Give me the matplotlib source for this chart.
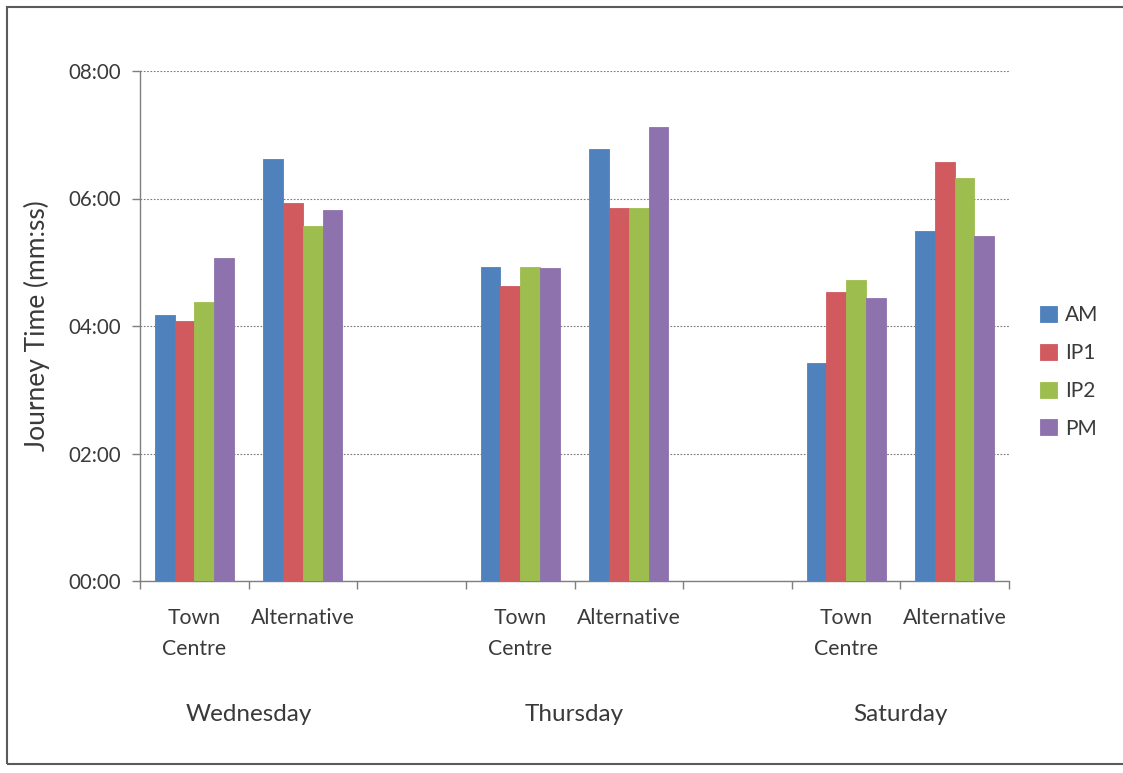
import matplotlib.pyplot as plt
from matplotlib.patches import Rectangle
from matplotlib.ticker import FuncFormatter, MultipleLocator

plt.rcParams['font.family'] = ['Lato', 'DejaVu Sans']

# journey times in seconds, one list per time period
days = ['Wednesday', 'Thursday', 'Saturday']
routes = ['Town\nCentre', 'Alternative']
periods = ['AM', 'IP1', 'IP2', 'PM']

# order: Wed TC, Wed Alt, Thu TC, Thu Alt, Sat TC, Sat Alt
am = [250, 397, 296, 407, 205, 329]
ip1 = [245, 356, 278, 351, 272, 394]
ip2 = [263, 334, 296, 351, 283, 379]
pm = [304, 349, 295, 427, 266, 325]

colors = ['#4F81BD', '#D05A5E', '#9EBD4F', '#8D72AE']
text_col = '#3a3a3a'

# each day takes two category slots plus one empty slot
slots = [0, 1, 3, 4, 6, 7]

fig = plt.figure(figsize=(11.23, 7.73), dpi=100)
ax = fig.add_axes([140 / 1123, 192 / 773, 869 / 1123, 510 / 773])

w = 1 / 5.5
for i, (name, vals) in enumerate(zip(periods, [am, ip1, ip2, pm])):
    xs = [s + (i - 1.5) * w for s in slots]
    ax.bar(xs, vals, width=w, color=colors[i], edgecolor=colors[i],
           linewidth=0.6, label=name, zorder=3)

ax.set_xlim(-0.5, 7.5)
ax.set_ylim(0, 480)


def mmss(v, pos):
    return f'{int(v // 60):02d}:{int(v % 60):02d}'


ax.yaxis.set_major_locator(MultipleLocator(120))
ax.yaxis.set_major_formatter(FuncFormatter(mmss))
ax.grid(axis='y', linestyle=(0, (1.5, 1.5)), color='#7a7a7a', linewidth=0.8, zorder=0)

ax.set_xticks([x - 0.5 for x in range(9)])
ax.set_xticklabels([])

for side in ['top', 'right']:
    ax.spines[side].set_visible(False)
for side in ['left', 'bottom']:
    ax.spines[side].set_color('#7f7f7f')
    ax.spines[side].set_linewidth(1.0)

ax.tick_params(axis='y', length=6, width=1.0, color='#7f7f7f', pad=8,
               labelsize=14.8, labelcolor=text_col)
ax.tick_params(axis='x', length=6, width=1.0, color='#7f7f7f')

# route labels under each slot, day labels under each pair
for k, s in enumerate(slots):
    ax.text(s, -0.052, routes[k % 2], transform=ax.get_xaxis_transform(),
            ha='center', va='top', fontsize=15.3, color=text_col, linespacing=1.7)
for d, day in enumerate(days):
    ax.text(3 * d + 0.5, -0.262, day, transform=ax.get_xaxis_transform(),
            ha='center', va='center', fontsize=17.5, color=text_col)

ax.set_ylabel('Journey Time (mm:ss)', fontsize=19, color=text_col)
ax.yaxis.set_label_coords(-0.103, 0.5)

leg = ax.legend(loc='center left', bbox_to_anchor=(1040 / 869 - 140 / 869, (581 - 372) / 510),
                frameon=False, fontsize=15, handlelength=0.8, handleheight=0.8,
                handletextpad=0.4, labelspacing=0.85, borderaxespad=0, borderpad=0)
for t in leg.get_texts():
    t.set_color(text_col)

# chart area border
fig.patches.append(Rectangle((7 / 1123, 9 / 773), 1.1, 757 / 773,
                             transform=fig.transFigure, fill=False,
                             edgecolor='#5a5a5a', linewidth=1.5))

fig.savefig('out.png', dpi=100, facecolor='white')
